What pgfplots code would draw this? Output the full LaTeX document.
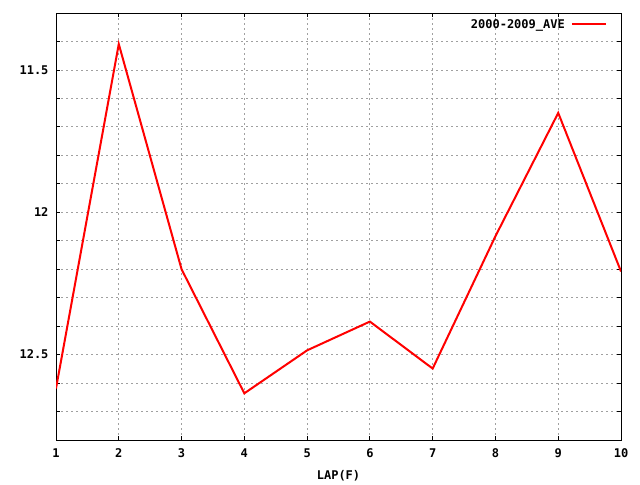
\documentclass[border=0pt]{standalone}
\usepackage{fontspec}
\setmainfont{DejaVu Sans Mono}
\usepackage{pgfplots}
\pgfplotsset{compat=1.18}

\begin{document}
\begin{tikzpicture}
	\definecolor{gridgray}{RGB}{160,160,160}
	\begin{axis}[
		name=ax,
		at={(0pt,0pt)}, anchor=south west,
		scale only axis,
		width=565pt, height=427pt,
		font=\fontsize{12}{14}\selectfont\bfseries,
		/pgf/number format/assume math mode=true,
		axis line style={black, line width=0.9pt},
		xmin=1, xmax=10,
		ymin=11.3, ymax=12.8,
		y dir=reverse,
		xtick={1,2,3,4,5,6,7,8,9,10},
		ytick={11.5,12,12.5},
		minor ytick={11.3,11.4,11.6,11.7,11.8,11.9,12.1,12.2,12.3,12.4,12.6,12.7,12.8},
		tick align=inside,
		major tick length=4pt, minor tick length=4pt,
		tick style={black, line width=0.8pt},
		grid=both,
		major grid style={gridgray, line width=0.8pt, dash pattern=on 2pt off 3pt},
		minor grid style={gridgray, line width=0.8pt, dash pattern=on 2pt off 3pt},
		xticklabel style={yshift=-5pt},
		yticklabel style={xshift=-4pt},
		xlabel={LAP(F)},
		xlabel style={yshift=-6pt},
		legend style={draw=none, fill=none, at={(1,1)}, anchor=north east,
			inner sep=0pt, xshift=-14pt, yshift=-4pt,
			/tikz/every odd column/.append style={column sep=4pt},
			font=\fontsize{12}{14}\selectfont\bfseries},
		legend cell align=right,
		legend plot pos=right,
		legend image code/.code={\draw[#1] (0pt,0pt) -- (34pt,0pt);},
	]
	\addplot [red, line width=2pt] table {%
	1 12.619
	2 11.409
	3 12.2
	4 12.636
	5 12.485
	6 12.384
	7 12.549
	8 12.084
	9 11.651
	10 12.208
	};
	\addlegendentry{2000-2009\_AVE}
	\end{axis}
	\useasboundingbox (-56pt,-40pt) rectangle (584pt,440pt);
\end{tikzpicture}
\end{document}
